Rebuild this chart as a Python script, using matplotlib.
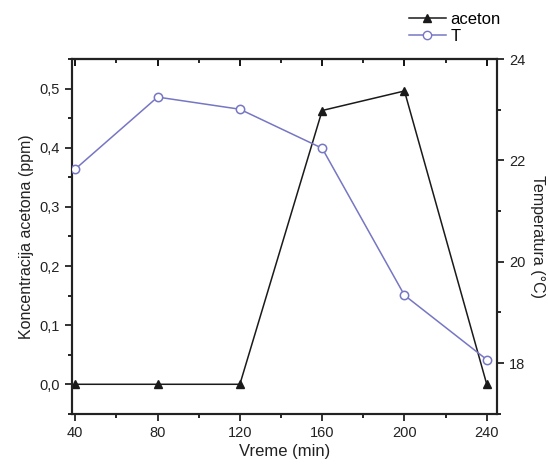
import matplotlib.pyplot as plt
from matplotlib.ticker import FuncFormatter, MultipleLocator
from matplotlib.lines import Line2D

plt.rcParams['font.family'] = ['Liberation Sans', 'DejaVu Sans']

# data
vreme = [40, 80, 120, 160, 200, 240]
aceton = [0.0, 0.0, 0.0, 0.463, 0.496, 0.0]
temp = [21.83, 23.25, 23.01, 22.24, 19.34, 18.07]

x_ticks = [40, 80, 120, 160, 200, 240]

black = '#1a1a1a'
blue = '#7676c4'

fig = plt.figure(figsize=(5.48, 4.65), dpi=100)
ax1 = fig.add_axes([0.131, 0.11, 0.776, 0.763])

ax1.plot(vreme, aceton, color=black, lw=1.1, marker='^', ms=6,
         mfc=black, mec=black, label='aceton', zorder=3)
ax1.set_xlim(38.3, 245)
ax1.set_ylim(-0.05, 0.55)
ax1.set_xticks(x_ticks)
ax1.xaxis.set_minor_locator(MultipleLocator(20))
ax1.yaxis.set_major_locator(MultipleLocator(0.1))
ax1.yaxis.set_minor_locator(MultipleLocator(0.05))
ax1.yaxis.set_major_formatter(FuncFormatter(lambda v, p: f"{v:.1f}".replace('.', ',')))
ax1.set_xlabel('Vreme (min)', fontsize=12, color='#222222', labelpad=3)
ax1.set_ylabel('Koncentracija acetona (ppm)', fontsize=11.5, color='#222222')
ax1.tick_params(axis='both', which='major', direction='out', length=5, width=1.3,
                labelsize=10.5, colors='#222222')
ax1.tick_params(axis='both', which='minor', direction='out', length=3, width=1.2)

ax2 = ax1.twinx()
ax2.plot(vreme, temp, color=blue, lw=1.1, marker='o', ms=6,
         mfc='white', mec=blue, mew=1.1, label='T', zorder=3)
ax2.set_ylim(17, 24)
ax2.yaxis.set_major_locator(MultipleLocator(2))
ax2.yaxis.set_minor_locator(MultipleLocator(1))
ax2.set_ylabel('Temperatura (°C)', fontsize=11.5, rotation=-90, labelpad=14, color='#222222')
ax2.tick_params(axis='y', which='major', direction='out', length=5, width=1.3,
                labelsize=10.5, colors='#222222')
ax2.tick_params(axis='y', which='minor', direction='out', length=3, width=1.2)

# top ticks point inward, like the Origin default
sec = ax1.secondary_xaxis('top')
sec.set_xticks(x_ticks)
sec.xaxis.set_minor_locator(MultipleLocator(20))
sec.tick_params(axis='x', which='major', direction='in', length=5, width=1.3, labeltop=False)
sec.tick_params(axis='x', which='minor', direction='in', length=3, width=1.2)
sec.spines['top'].set_linewidth(1.5)
ax1.tick_params(axis='x', which='both', top=False)

for ax in (ax1, ax2):
    for s in ax.spines.values():
        s.set_linewidth(1.5)
        s.set_color('#222222')

handles = [
    Line2D([], [], color=black, lw=1.1, marker='^', ms=6, mfc=black, mec=black),
    Line2D([], [], color=blue, lw=1.1, marker='o', ms=6, mfc='white', mec=blue),
]
fig.legend(handles, ['aceton', 'T'], loc='upper left', bbox_to_anchor=(0.725, 1.0),
           frameon=False, fontsize=12, handlelength=2.2, handletextpad=0.3,
           labelspacing=0.15, borderaxespad=0.3)

fig.savefig('out.png', dpi=100)
